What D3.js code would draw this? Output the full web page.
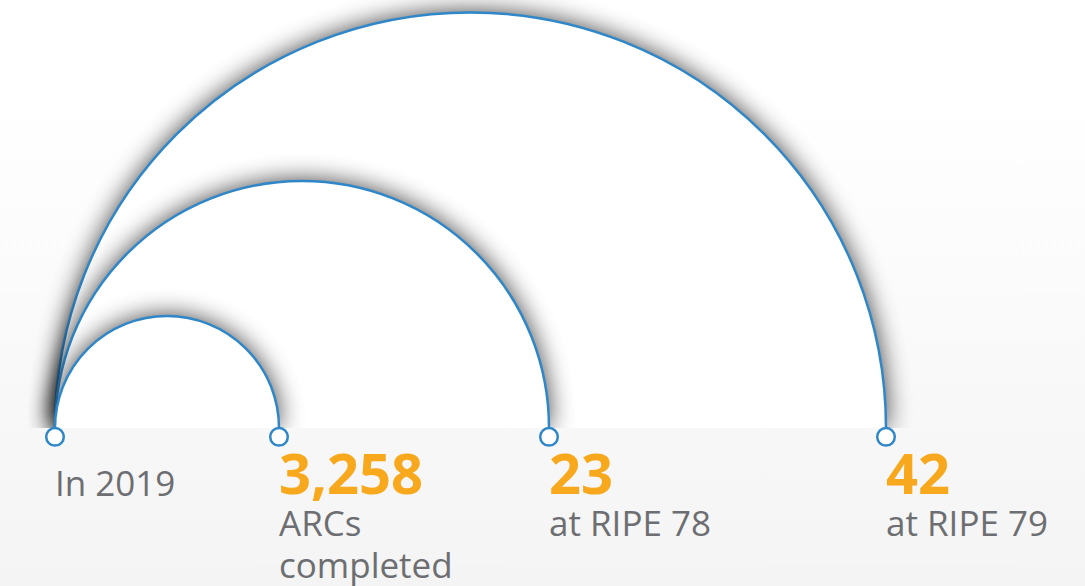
<!DOCTYPE html>
<html>
<head>
<meta charset="utf-8">
<script src="https://cdn.jsdelivr.net/npm/d3@7"></script>
<style>
    html, body { margin: 0; padding: 0; background: #ffffff; }
    svg { display: block; }
    text { font-family: "Open Sans", sans-serif; }
</style>
</head>
<body>
<div id="chart"></div>
<script>
    // milestones along the line, first one is the starting point of every arc
    var milestones = ['start', 'arcs', 'ripe78', 'ripe79'];
    var startLabel = 'In 2019';
    var values = ['3,258', '23', '42'];
    var captions = [['ARCs', 'completed'], ['at RIPE 78'], ['at RIPE 79']];

    var width = 1085;
    var height = 586;
    var baseY = 428;
    var dotR = 8.8;
    var blue = '#2f87c9';
    var orange = '#f8a81c';
    var grey = '#6d6e71';

    var x = d3.scaleOrdinal()
        .domain(milestones)
        .range([55, 279, 549, 886]);

    var svg = d3.select('#chart').append('svg')
        .attr('width', width)
        .attr('height', height);

    var defs = svg.append('defs');

    var bg = defs.append('linearGradient')
        .attr('id', 'bg')
        .attr('x1', 0).attr('y1', 0).attr('x2', 0).attr('y2', 1);
    bg.append('stop').attr('offset', '0.16').attr('stop-color', '#ffffff');
    bg.append('stop').attr('offset', '1').attr('stop-color', '#f4f4f4');

    var shadow = defs.append('filter')
        .attr('id', 'shadow')
        .attr('x', '-30%').attr('y', '-30%')
        .attr('width', '160%').attr('height', '160%');
    shadow.append('feGaussianBlur')
        .attr('in', 'SourceAlpha')
        .attr('stdDeviation', 13);
    shadow.append('feComponentTransfer')
        .append('feFuncA').attr('type', 'linear').attr('slope', 0.8);
    var merge = shadow.append('feMerge');
    merge.append('feMergeNode');
    merge.append('feMergeNode').attr('in', 'SourceGraphic');

    defs.append('clipPath')
        .attr('id', 'aboveLine')
        .append('rect')
        .attr('x', 0).attr('y', 0)
        .attr('width', width).attr('height', baseY);

    svg.append('rect')
        .attr('width', width)
        .attr('height', height)
        .attr('fill', 'url(#bg)');

    /**
     * half circle from the start point to the given milestone
     */
    function halfCircle(key, closed) {
        var x0 = x(milestones[0]);
        var x1 = x(key);
        var r = (x1 - x0) / 2;
        var p = d3.path();
        p.moveTo(x0, baseY);
        p.arc(x0 + r, baseY, r, Math.PI, 2 * Math.PI);
        if (closed) {
            p.closePath();
        }
        return p.toString();
    }

    // biggest first so the smaller ones cast shadow on top
    var targets = milestones.slice(1).reverse();

    var arcs = svg.append('g')
        .attr('clip-path', 'url(#aboveLine)')
        .selectAll('g')
        .data(targets)
        .enter().append('g');

    arcs.append('path')
        .attr('d', function (d) { return halfCircle(d, true); })
        .attr('fill', '#ffffff')
        .attr('filter', 'url(#shadow)');

    arcs.append('path')
        .attr('d', function (d) { return halfCircle(d, false); })
        .attr('fill', 'none')
        .attr('stroke', blue)
        .attr('stroke-width', 2.5);

    svg.selectAll('.dot')
        .data(milestones)
        .enter().append('circle')
        .attr('class', 'dot')
        .attr('cx', function (d) { return x(d); })
        .attr('cy', baseY + dotR)
        .attr('r', dotR)
        .attr('fill', '#ffffff')
        .attr('stroke', blue)
        .attr('stroke-width', 2.5);

    svg.append('text')
        .attr('x', x(milestones[0]))
        .attr('y', 496)
        .attr('font-size', 35)
        .attr('fill', grey)
        .text(startLabel);

    var labels = svg.selectAll('.label')
        .data(milestones.slice(1))
        .enter().append('g')
        .attr('class', 'label')
        .attr('transform', function (d) { return 'translate(' + x(d) + ',0)'; });

    labels.append('text')
        .attr('y', 494)
        .attr('font-size', 56)
        .attr('font-weight', 700)
        .attr('fill', orange)
        .text(function (d, i) { return values[i]; });

    labels.each(function (d, i) {
        d3.select(this).selectAll('.caption')
            .data(captions[i])
            .enter().append('text')
            .attr('class', 'caption')
            .attr('y', function (c, j) { return 536 + j * 42; })
            .attr('font-size', 35)
            .attr('fill', grey)
            .text(function (c) { return c; });
    });
</script>
</body>
</html>
